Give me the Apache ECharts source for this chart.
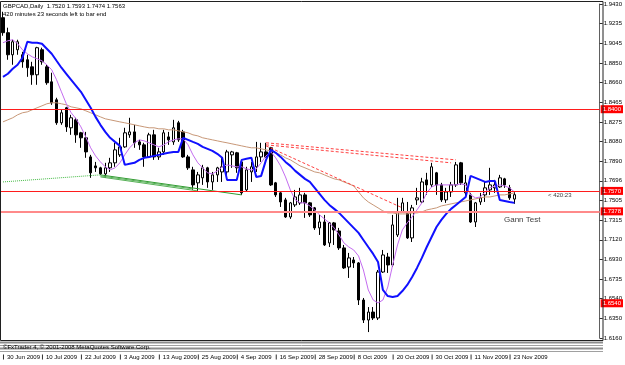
<!DOCTYPE html>
<html>
<head>
<meta charset="utf-8">
<script src="https://cdn.jsdelivr.net/npm/echarts@6/dist/echarts.min.js"></script>
<style>
  html, body { margin: 0; padding: 0; background: #fff; }
  #chart { width: 625px; height: 365px; }
</style>
</head>
<body>
<div id="chart"></div>
<script>
// GBPCAD daily, 30 Jun 2009 .. 25 Nov 2009 (one bar per weekday)
const opens = [1.9296,1.9149,1.8933,1.8982,1.8933,1.8884,1.8815,1.8737,1.8982,1.8815,
  1.8668,1.8492,1.8267,1.8414,1.8218,1.8296,1.8169,1.8120,1.7933,1.7845,
  1.7826,1.7767,1.7826,1.7875,1.7953,1.8031,1.8149,1.8178,1.8080,1.8051,
  1.7933,1.8149,1.7933,1.7982,1.8129,1.8080,1.8267,1.8178,1.7933,1.7806,
  1.7679,1.7728,1.7826,1.7688,1.7757,1.7786,1.7786,1.7953,1.7973,1.7884,
  1.7610,1.7786,1.7836,1.7933,1.7982,1.8022,1.7679,1.7581,1.7512,1.7345,
  1.7463,1.7483,1.7561,1.7483,1.7434,1.7238,1.7296,1.7091,1.7287,1.7208,
  1.7042,1.6855,1.6924,1.6895,1.6532,1.6336,1.6414,1.6356,1.6806,1.6953,
  1.6875,1.7169,1.7394,1.7394,1.7140,1.7512,1.7492,1.7708,1.7659,1.7777,
  1.7659,1.7512,1.7590,1.7659,1.7875,1.7581,1.7561,1.7296,1.7492,1.7561,
  1.7610,1.7630,1.7639,1.7718,1.7630,1.7520];
const highs = [1.9354,1.9198,1.9080,1.9080,1.8962,1.8933,1.8864,1.9011,1.9002,1.8835,
  1.8757,1.8512,1.8394,1.8423,1.8345,1.8316,1.8178,1.8178,1.7953,1.7884,
  1.7836,1.7875,1.7924,1.8071,1.8120,1.8218,1.8316,1.8247,1.8100,1.8071,
  1.8169,1.8198,1.8022,1.8198,1.8178,1.8296,1.8286,1.8198,1.7953,1.7836,
  1.7786,1.7855,1.7836,1.7786,1.7836,1.7933,1.8002,1.7992,1.7982,1.7904,
  1.7836,1.7884,1.8080,1.8071,1.8071,1.8031,1.7688,1.7590,1.7532,1.7492,
  1.7610,1.7630,1.7581,1.7492,1.7443,1.7365,1.7365,1.7296,1.7296,1.7238,
  1.7071,1.6993,1.6953,1.6904,1.6552,1.6463,1.6463,1.6826,1.7022,1.6993,
  1.7365,1.7532,1.7532,1.7492,1.7463,1.7630,1.7728,1.7777,1.7875,1.7786,
  1.7679,1.7630,1.7688,1.7884,1.7884,1.7757,1.7581,1.7492,1.7581,1.7688,
  1.7826,1.7708,1.7757,1.7728,1.7659,1.7593];
const lows = [1.9119,1.8884,1.8835,1.8933,1.8806,1.8717,1.8639,1.8639,1.8835,1.8639,
  1.8443,1.8247,1.8247,1.8178,1.8149,1.8071,1.8022,1.7924,1.7728,1.7786,
  1.7757,1.7728,1.7786,1.7836,1.7933,1.8022,1.8120,1.8022,1.8002,1.7836,
  1.7924,1.7904,1.7904,1.7953,1.8051,1.8051,1.8080,1.7924,1.7806,1.7610,
  1.7590,1.7659,1.7630,1.7610,1.7688,1.7688,1.7757,1.7826,1.7777,1.7561,
  1.7590,1.7688,1.7786,1.7884,1.7924,1.7649,1.7541,1.7443,1.7336,1.7326,
  1.7443,1.7463,1.7336,1.7345,1.7218,1.7169,1.7061,1.7051,1.7071,1.7022,
  1.6836,1.6748,1.6846,1.6483,1.6307,1.6218,1.6336,1.6336,1.6797,1.6797,
  1.6855,1.7149,1.7385,1.7130,1.7100,1.7463,1.7483,1.7561,1.7639,1.7561,
  1.7492,1.7483,1.7541,1.7639,1.7659,1.7541,1.7287,1.7247,1.7463,1.7492,
  1.7561,1.7581,1.7630,1.7630,1.7512,1.7474];
const closes = [1.9149,1.8933,1.9060,1.9060,1.8864,1.8806,1.8737,1.9002,1.8864,1.8659,
  1.8463,1.8267,1.8365,1.8227,1.8316,1.8149,1.8120,1.7982,1.7777,1.7826,
  1.7767,1.7826,1.7875,1.8002,1.8031,1.8169,1.8178,1.8071,1.8051,1.7933,
  1.8149,1.7933,1.7982,1.8169,1.8100,1.8218,1.8100,1.7933,1.7826,1.7659,
  1.7757,1.7826,1.7688,1.7757,1.7826,1.7836,1.7982,1.7982,1.7826,1.7581,
  1.7806,1.7836,1.7933,1.7982,1.7933,1.7659,1.7561,1.7492,1.7345,1.7483,
  1.7541,1.7561,1.7483,1.7365,1.7238,1.7296,1.7071,1.7287,1.7218,1.7042,
  1.6846,1.6944,1.6895,1.6532,1.6336,1.6414,1.6356,1.6806,1.6973,1.6875,
  1.7267,1.7394,1.7483,1.7140,1.7434,1.7532,1.7688,1.7659,1.7836,1.7659,
  1.7512,1.7590,1.7659,1.7855,1.7679,1.7679,1.7296,1.7483,1.7532,1.7630,
  1.7659,1.7659,1.7728,1.7659,1.7532,1.7563];

// indicator lines
const blueLine = [1.8717,1.8747,1.8796,1.8835,1.8904,1.9060,1.9051,1.9051,1.9041,1.8992,
  1.8943,1.8874,1.8806,1.8747,1.8688,1.8629,1.8570,1.8492,1.8414,1.8325,
  1.8247,1.8178,1.8120,1.8080,1.8041,1.7855,1.7865,1.7875,1.7904,1.7924,
  1.7933,1.7943,1.7953,1.7963,1.7973,1.7982,1.7982,1.8120,1.8100,1.8080,
  1.8061,1.8031,1.8012,1.7992,1.7963,1.7924,1.7708,1.7708,1.7708,1.7904,
  1.7914,1.7924,1.7737,1.7747,1.7904,1.8002,1.7973,1.7933,1.7884,1.7845,
  1.7796,1.7757,1.7718,1.7688,1.7630,1.7571,1.7512,1.7463,1.7424,1.7385,
  1.7336,1.7287,1.7238,1.7189,1.7120,1.7051,1.6983,1.6904,1.6630,1.6571,
  1.6561,1.6571,1.6620,1.6679,1.6757,1.6846,1.6944,1.7051,1.7149,1.7247,
  1.7316,1.7375,1.7424,1.7463,1.7502,1.7541,1.7747,1.7728,1.7708,1.7688,
  1.7698,1.7698,1.7512,1.7502,1.7492,1.7483];
const violetLine = [1.9051,1.9070,1.9080,1.9041,1.8982,1.8943,1.8913,1.8894,1.8874,1.8835,
  1.8786,1.8688,1.8570,1.8453,1.8365,1.8306,1.8227,1.8129,1.8022,1.7943,
  1.7884,1.7836,1.7806,1.7826,1.7875,1.7953,1.8022,1.8071,1.8100,1.8090,
  1.8071,1.8051,1.8031,1.8051,1.8080,1.8100,1.8110,1.8110,1.8051,1.7953,
  1.7875,1.7826,1.7777,1.7767,1.7796,1.7836,1.7855,1.7845,1.7836,1.7836,
  1.7816,1.7806,1.7816,1.7875,1.7943,1.7982,1.7924,1.7845,1.7737,1.7610,
  1.7512,1.7483,1.7483,1.7453,1.7414,1.7365,1.7326,1.7287,1.7238,1.7169,
  1.7091,1.7051,1.7022,1.6963,1.6826,1.6630,1.6532,1.6503,1.6532,1.6659,
  1.6875,1.7071,1.7218,1.7287,1.7345,1.7414,1.7483,1.7581,1.7639,1.7659,
  1.7659,1.7659,1.7659,1.7659,1.7669,1.7659,1.7561,1.7532,1.7541,1.7590,
  1.7630,1.7649,1.7659,1.7649,1.7630,1.7590];
const tanLine = [1.8276,1.8296,1.8316,1.8345,1.8365,1.8374,1.8394,1.8414,1.8433,1.8453,
  1.8463,1.8463,1.8453,1.8443,1.8423,1.8414,1.8404,1.8384,1.8365,1.8345,
  1.8325,1.8306,1.8296,1.8286,1.8276,1.8267,1.8257,1.8247,1.8237,1.8227,
  1.8218,1.8218,1.8208,1.8208,1.8198,1.8198,1.8188,1.8178,1.8169,1.8149,
  1.8139,1.8120,1.8110,1.8100,1.8090,1.8080,1.8071,1.8061,1.8051,1.8041,
  1.8031,1.8022,1.8022,1.8012,1.8002,1.7992,1.7973,1.7953,1.7924,1.7904,
  1.7875,1.7845,1.7826,1.7806,1.7786,1.7777,1.7757,1.7737,1.7718,1.7708,
  1.7688,1.7669,1.7649,1.7590,1.7532,1.7492,1.7463,1.7434,1.7404,1.7385,
  1.7385,1.7375,1.7375,1.7375,1.7385,1.7385,1.7394,1.7414,1.7424,1.7434,
  1.7453,1.7463,1.7473,1.7483,1.7492,1.7502,1.7512,1.7522,1.7532,1.7541,
  1.7541,1.7551,1.7561,1.7561,1.7571,1.7581];

// horizontal levels (the last one has a price tag only)
const levels = [1.8400, 1.7570, 1.7378, 1.6540];
const levelColors = ['#ff1c1c', '#ff1c1c', '#ff8a8a', 'rgba(0,0,0,0)'];

// trend lines: [barIndex, price] pairs
const greenDotted = [[0, 1.7688], [20, 1.7757]];
const greenLines = [
  [[20, 1.7757], [49, 1.7561]],
  [[20, 1.7747], [39, 1.7620]],
  [[20, 1.7737], [40, 1.7600]]
];
const redDashed = [
  [[54, 1.8071], [93, 1.7904]],
  [[54, 1.8051], [92, 1.7875]],
  [[54, 1.8041], [82, 1.7434]]
];

const xTickLabels = ['30 Jun 2009', '10 Jul 2009', '22 Jul 2009', '3 Aug 2009', '13 Aug 2009',
  '25 Aug 2009', '4 Sep 2009', '16 Sep 2009', '28 Sep 2009', '8 Oct 2009', '20 Oct 2009',
  '30 Oct 2009', '11 Nov 2009', '23 Nov 2009'];
const yTickLabels = ['1.6160', '1.6350', '1.6540', '1.6735', '1.6930', '1.7120', '1.7315',
  '1.7505', '1.7696', '1.7890', '1.8080', '1.8275', '1.8465', '1.8660', '1.8850', '1.9045',
  '1.9235', '1.9430'];

const slots = 123;
const yMin = 1.6160;
const yStep = (1.9430 - 1.6160) / 17;

const categories = [];
for (let i = 0; i < slots; i++) categories.push(String(i));

const candles = opens.map((o, i) => [o, closes[i], lows[i], highs[i]]);

const font = '"Liberation Sans", Arial, sans-serif';
const last = opens.length - 1;

const chart = echarts.init(document.getElementById('chart'), null, { renderer: 'canvas' });

const levelLines = levels.map((v, i) => ({
  yAxis: v,
  lineStyle: { color: levelColors[i], width: i === 2 ? 2 : 1, type: 'solid', opacity: 1 },
  label: {
    show: true,
    position: 'end',
    distance: 1,
    formatter: v.toFixed(4),
    backgroundColor: '#ff0000',
    color: '#fff',
    fontFamily: font,
    fontSize: 6,
    padding: [1, 2]
  }
}));

const trendLines = [
  [{ coord: greenDotted[0], lineStyle: { color: '#44bb44', type: 'dotted', width: 1 } }, { coord: greenDotted[1] }]
].concat(greenLines.map((l, i) => [
  { coord: l[0], lineStyle: { color: i === 0 ? '#2f9a2f' : '#55b055', type: 'solid', width: 1 } },
  { coord: l[1] }
])).concat(redDashed.map(l => [
  { coord: l[0], lineStyle: { color: '#ff4040', type: [3, 2], width: 1 } },
  { coord: l[1] }
]));

const option = {
  backgroundColor: '#fff',
  animation: false,
  grid: { left: 0, right: 23, top: 4, bottom: 27 },
  xAxis: {
    type: 'category',
    data: categories,
    boundaryGap: true,
    axisLine: { show: false },
    axisTick: { show: false },
    axisLabel: {
      interval: 7,
      margin: 16,
      align: 'left',
      formatter: function (v, i) {
        const t = xTickLabels[i / 8];
        return t ? '{t|}{l|' + t + '}' : '';
      },
      rich: {
        t: { width: 1, height: 5, backgroundColor: '#303030' },
        l: { fontFamily: font, fontSize: 6, color: '#000', padding: [0, 0, 0, 3] }
      }
    },
    splitLine: { show: false }
  },
  yAxis: {
    type: 'value',
    position: 'right',
    min: yMin,
    max: yMin + 17 * yStep,
    interval: yStep,
    scale: true,
    axisLine: { show: true, lineStyle: { color: '#606060', width: 1 } },
    axisTick: { show: true, length: 3, lineStyle: { color: '#303030' } },
    axisLabel: {
      margin: 4,
      fontFamily: font,
      fontSize: 6,
      color: '#000',
      formatter: function (v) {
        return yTickLabels[Math.round((v - yMin) / yStep)] || '';
      }
    },
    splitLine: { show: false }
  },
  graphic: [
    { type: 'rect', silent: true, z: 100,
      shape: { x: 0.5, y: 1.5, width: 602.5, height: 339 },
      style: { fill: 'none', stroke: '#202020', lineWidth: 1 } },
    { type: 'line', silent: true, shape: { x1: 0, y1: 342.5, x2: 603, y2: 342.5 }, style: { stroke: '#8c8c8c', lineWidth: 2 } },
    { type: 'line', silent: true, shape: { x1: 0, y1: 345.5, x2: 603, y2: 345.5 }, style: { stroke: '#a0a0a0', lineWidth: 1 } },
    { type: 'line', silent: true, shape: { x1: 0, y1: 348.5, x2: 603, y2: 348.5 }, style: { stroke: '#8c8c8c', lineWidth: 2 } },
    { type: 'line', silent: true, shape: { x1: 0, y1: 351.5, x2: 603, y2: 351.5 }, style: { stroke: '#a0a0a0', lineWidth: 1 } },
    { type: 'text', left: 3, top: 344, silent: true, z: 101,
      style: { text: '©FxTrader 4, © 2001-2008 MetaQuotes Software Corp.', font: '6px ' + font, fill: '#000' } },
    { type: 'text', left: 3, top: 3, silent: true,
      style: { text: 'GBPCAD,Daily  ' + [opens[last], highs[last], lows[last], closes[last]].map(v => v.toFixed(4)).join(' '),
        font: '6px ' + font, fill: '#000' } },
    { type: 'text', left: 3, top: 11, silent: true,
      style: { text: '420 minutes 23 seconds left to bar end', font: '6px ' + font, fill: '#000' } },
    { type: 'text', left: 548, top: 192, silent: true,
      style: { text: '< 420:23', font: '6px ' + font, fill: '#404040' } },
    { type: 'text', left: 504, top: 216, silent: true,
      style: { text: 'Gann Test', font: '8px ' + font, fill: '#404040' } }
  ],
  series: [
    {
      type: 'candlestick',
      data: candles,
      barWidth: 3,
      itemStyle: {
        color: '#ffffff',
        color0: '#000000',
        borderColor: '#000000',
        borderColor0: '#000000',
        borderWidth: 1
      }
    },
    {
      type: 'line',
      data: tanLine,
      symbol: 'none',
      lineStyle: { color: '#c89878', width: 1 },
      markLine: {
        symbol: 'none',
        silent: true,
        label: { show: false },
        data: trendLines
      }
    },
    {
      type: 'line',
      data: violetLine,
      symbol: 'none',
      lineStyle: { color: '#c46cf0', width: 1 }
    },
    {
      type: 'line',
      data: blueLine,
      symbol: 'none',
      lineStyle: { color: '#1010ff', width: 2 },
      markLine: {
        symbol: 'none',
        silent: true,
        lineStyle: { color: '#ff1c1c', type: 'solid' },
        data: levelLines
      }
    }
  ]
};

chart.setOption(option);
</script>
</body>
</html>
